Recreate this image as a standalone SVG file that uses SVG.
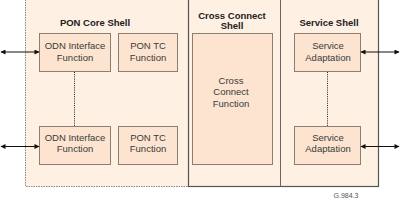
<svg xmlns="http://www.w3.org/2000/svg" width="400" height="202" viewBox="0 0 400 202">
<style>
.shell{fill:#FEF0E2}
.box{fill:#FCE4D0;stroke:#8E7E70;stroke-width:1}
.t{font-family:"Liberation Sans",Arial,sans-serif;font-size:9.5px;fill:#3a3a3a;text-anchor:middle}
.h{font-family:"Liberation Sans",Arial,sans-serif;font-size:9.5px;font-weight:bold;fill:#222;text-anchor:middle}
.conn{stroke:#111;stroke-width:1.2;fill:none}
.dot{stroke:#222;stroke-width:1;stroke-dasharray:1,1.2;fill:none}
</style>
<defs>
<marker id="ah" viewBox="0 0 10 10" refX="9" refY="5" markerWidth="6" markerHeight="5" orient="auto-start-reverse" markerUnits="userSpaceOnUse">
<path d="M0,0 L10,5 L0,10 z" fill="#111"/>
</marker>
</defs>
<g id="pon-core-shell">
<rect class="shell" x="25.5" y="-2" width="163" height="188.5" stroke="#888" stroke-width="1" stroke-dasharray="1.5,1"/>
<text class="h" x="95" y="25.5">PON Core Shell</text>
</g>
<g id="cc-service-frame">
<rect class="shell" x="188.5" y="-2" width="190" height="188.5" stroke="#555" stroke-width="1.2"/>
<line x1="280.5" y1="-2" x2="280.5" y2="186.5" stroke="#666" stroke-width="1"/>
</g>
<g id="cross-connect-shell">
<text class="h" x="232" y="18.5">Cross Connect</text>
<text class="h" x="232" y="29">Shell</text>
</g>
<g id="service-shell">
<text class="h" x="329" y="25.5">Service Shell</text>
</g>
<g id="odn1">
<rect class="box" x="39.5" y="33.5" width="71" height="38"/>
<text class="t" x="75" y="49">ODN Interface</text>
<text class="t" x="75" y="60.5">Function</text>
</g>
<g id="pontc1">
<rect class="box" x="118.5" y="33.5" width="59" height="38"/>
<text class="t" x="148" y="49">PON TC</text>
<text class="t" x="148" y="60.5">Function</text>
</g>
<g id="odn2">
<rect class="box" x="39.5" y="126.5" width="71" height="38"/>
<text class="t" x="75" y="140.5">ODN Interface</text>
<text class="t" x="75" y="152">Function</text>
</g>
<g id="pontc2">
<rect class="box" x="118.5" y="126.5" width="59" height="38"/>
<text class="t" x="148" y="140.5">PON TC</text>
<text class="t" x="148" y="152">Function</text>
</g>
<g id="crossconnect">
<rect class="box" x="192.5" y="33.5" width="80" height="131"/>
<text class="t" x="231" y="83.5">Cross</text>
<text class="t" x="231" y="95">Connect</text>
<text class="t" x="231" y="106.5">Function</text>
</g>
<g id="sa1">
<rect class="box" x="294.5" y="33.5" width="66" height="38"/>
<text class="t" x="328" y="49">Service</text>
<text class="t" x="328" y="60.5">Adaptation</text>
</g>
<g id="sa2">
<rect class="box" x="294.5" y="126.5" width="66" height="38"/>
<text class="t" x="328" y="140.5">Service</text>
<text class="t" x="328" y="152">Adaptation</text>
</g>
<g id="connectors">
<line class="conn" x1="1" y1="52" x2="39" y2="52" marker-start="url(#ah)" marker-end="url(#ah)"/>
<line class="conn" x1="1" y1="146.5" x2="39" y2="146.5" marker-start="url(#ah)" marker-end="url(#ah)"/>
<line class="conn" x1="361" y1="52" x2="399" y2="52" marker-start="url(#ah)" marker-end="url(#ah)"/>
<line class="conn" x1="361" y1="146.5" x2="399" y2="146.5" marker-start="url(#ah)" marker-end="url(#ah)"/>
<line class="dot" x1="74.5" y1="72" x2="74.5" y2="126"/>
<line class="dot" x1="327.5" y1="72" x2="327.5" y2="126"/>
</g>
<text x="346" y="197.5" font-family="Liberation Sans, Arial, sans-serif" font-size="7px" fill="#555" text-anchor="middle">G.984.3</text>
</svg>
